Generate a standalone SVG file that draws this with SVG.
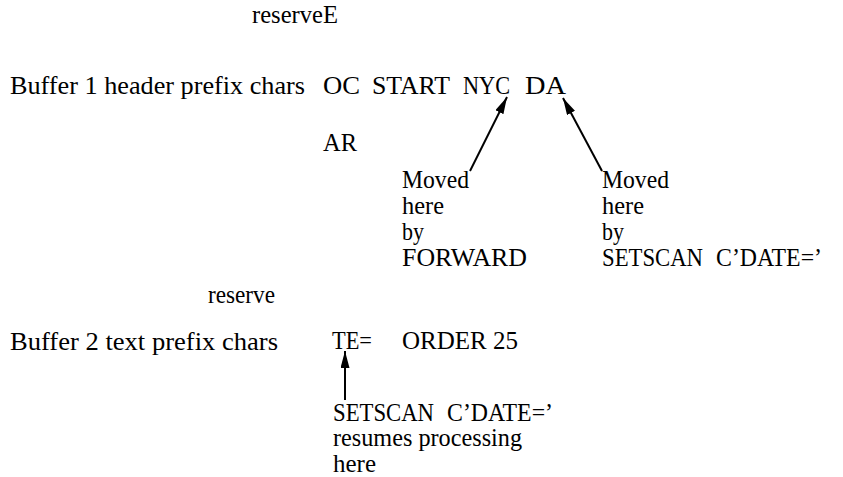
<svg xmlns="http://www.w3.org/2000/svg" width="843" height="477" viewBox="0 0 843 477">
<style>
text{font-family:"Liberation Serif","Times New Roman",serif;font-size:25px;fill:#000;}
.conn line{stroke:#000;stroke-width:2;}
</style>
<defs>
<marker id="ah" markerUnits="userSpaceOnUse" markerWidth="18" markerHeight="10" refX="17" refY="4.5" orient="auto">
<path d="M0,0 L17,4.5 L0,9 z" fill="#000"/>
</marker>
</defs>
<rect width="843" height="477" fill="#fff"/>
<g id="reserveE"><text x="252" y="23" textLength="86" lengthAdjust="spacingAndGlyphs">reserveE</text></g>
<g id="buffer1">
<text x="10" y="94" textLength="295" lengthAdjust="spacingAndGlyphs">Buffer 1 header prefix chars</text>
<text x="323" y="94" textLength="37" lengthAdjust="spacingAndGlyphs">OC</text>
<text x="372" y="94" textLength="78" lengthAdjust="spacingAndGlyphs">START</text>
<text x="463" y="94" textLength="47" lengthAdjust="spacingAndGlyphs">NYC</text>
<text x="525" y="94" textLength="41" lengthAdjust="spacingAndGlyphs">DA</text>
</g>
<g id="ar"><text x="323" y="151" textLength="34" lengthAdjust="spacingAndGlyphs">AR</text></g>
<g id="forward-note">
<text x="402" y="188" textLength="67" lengthAdjust="spacingAndGlyphs">Moved</text>
<text x="402" y="214" textLength="42" lengthAdjust="spacingAndGlyphs">here</text>
<text x="402" y="240" textLength="22" lengthAdjust="spacingAndGlyphs">by</text>
<text x="402" y="266" textLength="125" lengthAdjust="spacingAndGlyphs">FORWARD</text>
</g>
<g id="setscan-note">
<text x="602" y="188" textLength="67" lengthAdjust="spacingAndGlyphs">Moved</text>
<text x="602" y="214" textLength="42" lengthAdjust="spacingAndGlyphs">here</text>
<text x="602" y="240" textLength="22" lengthAdjust="spacingAndGlyphs">by</text>
<text x="602" y="266" textLength="101" lengthAdjust="spacingAndGlyphs">SETSCAN</text>
<text x="716" y="266" textLength="106" lengthAdjust="spacingAndGlyphs">C’DATE=’</text>
</g>
<g id="reserve"><text x="208" y="303" textLength="67" lengthAdjust="spacingAndGlyphs">reserve</text></g>
<g id="buffer2">
<text x="10" y="350" textLength="268" lengthAdjust="spacingAndGlyphs">Buffer 2 text prefix chars</text>
<text x="332" y="349" textLength="40" lengthAdjust="spacingAndGlyphs">TE=</text>
<text x="402" y="349" textLength="116" lengthAdjust="spacingAndGlyphs">ORDER 25</text>
</g>
<g id="resume-note">
<text x="333" y="421" textLength="101" lengthAdjust="spacingAndGlyphs">SETSCAN</text>
<text x="447" y="421" textLength="106" lengthAdjust="spacingAndGlyphs">C’DATE=’</text>
<text x="333" y="446" textLength="189" lengthAdjust="spacingAndGlyphs">resumes processing</text>
<text x="333" y="472" textLength="43" lengthAdjust="spacingAndGlyphs">here</text>
</g>
<g id="connectors" class="conn">
<line x1="470" y1="171" x2="507" y2="97" marker-end="url(#ah)"/>
<line x1="602" y1="171" x2="563" y2="98" marker-end="url(#ah)"/>
<line x1="345" y1="400" x2="345" y2="351" marker-end="url(#ah)"/>
</g>
</svg>
